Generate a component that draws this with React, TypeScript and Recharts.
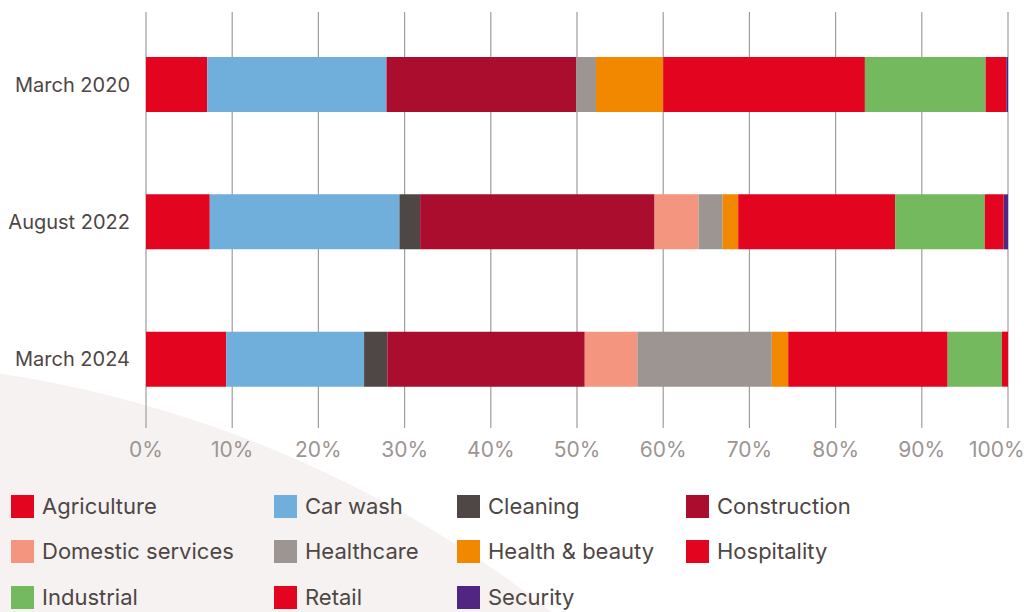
import React from 'react';
import { BarChart, Bar, XAxis, YAxis, CartesianGrid } from 'recharts';

const categories = ['March 2020', 'August 2022', 'March 2024'];
const agriculture = [7.1, 7.4, 9.3];
const carWash = [20.8, 22.0, 16.0];
const cleaning = [0, 2.4, 2.7];
const construction = [22.0, 27.2, 22.9];
const domesticServices = [0, 5.1, 6.1];
const healthcare = [2.3, 2.8, 15.6];
const healthBeauty = [7.8, 1.8, 1.9];
const hospitality = [23.4, 18.2, 18.5];
const industrial = [14.0, 10.4, 6.3];
const retail = [2.4, 2.2, 0.7];
const security = [0.2, 0.5, 0];
const xTicks = [0, 10, 20, 30, 40, 50, 60, 70, 80, 90, 100];

const series = [
  { key: 'Agriculture', values: agriculture, color: '#E30520' },
  { key: 'Car wash', values: carWash, color: '#70AFDB' },
  { key: 'Cleaning', values: cleaning, color: '#4F4745' },
  { key: 'Construction', values: construction, color: '#AB0D2F' },
  { key: 'Domestic services', values: domesticServices, color: '#F4967F' },
  { key: 'Healthcare', values: healthcare, color: '#9C9592' },
  { key: 'Health & beauty', values: healthBeauty, color: '#F28800' },
  { key: 'Hospitality', values: hospitality, color: '#E30520' },
  { key: 'Industrial', values: industrial, color: '#74B95E' },
  { key: 'Retail', values: retail, color: '#E30520' },
  { key: 'Security', values: security, color: '#512582' },
];

const data = categories.map((name, i) => {
  const row: Record<string, any> = { name };
  series.forEach((s) => {
    row[s.key] = s.values[i];
  });
  return row;
});

const FONT = 'Inter, "Noto Sans", sans-serif';
const TEXT = '#4E4644';
const TICK = '#9C9592';

const XTick = (props: any) => {
  const { x, y, payload } = props;
  const label = `${payload.value}%`;
  const halfW = label.length * 6.3;
  const cx = Math.min(x, 1022 - halfW);
  return (
    <text x={cx} y={y} dy="0.71em" textAnchor="middle" fill={TICK} fontSize={21} fontFamily={FONT}>
      {label}
    </text>
  );
};

const colLefts = [11, 274, 457, 686];
const rowTops = [495, 540, 586];

export default function App() {
  return (
    <div style={{ position: 'absolute', left: 0, top: 0, width: 1024, height: 612, background: '#fff', overflow: 'hidden', fontFamily: FONT }}>
      <svg width={1024} height={612} style={{ position: 'absolute', left: 0, top: 0 }}>
        <circle cx={-178} cy={1542} r={1182} fill="#F6F2F1" />
      </svg>
      <div style={{ position: 'absolute', left: 0, top: 0 }}>
        <BarChart
          width={1024}
          height={612}
          data={data}
          layout="vertical"
          margin={{ top: 12, right: 16, bottom: 154, left: 0 }}
          barSize={55}
        >
          <CartesianGrid horizontal={false} vertical stroke="#A39C9A" strokeWidth={1.2} />
          <XAxis
            type="number"
            domain={[0, 100]}
            ticks={xTicks}
            axisLine={false}
            tickLine={false}
            tickMargin={8}
            interval={0}
            tick={<XTick />}
          />
          <YAxis
            type="category"
            dataKey="name"
            width={146}
            axisLine={false}
            tickLine={false}
            tickSize={0}
            tickMargin={16}
            padding={{ top: 4, bottom: 0 }}
            tick={{ fill: TEXT, fontSize: 20, fontFamily: FONT }}
          />
          {series.map((s) => (
            <Bar key={s.key} dataKey={s.key} stackId="a" fill={s.color} isAnimationActive={false} />
          ))}
        </BarChart>
      </div>
      {series.map((s, i) => {
        const col = i % 4;
        const row = Math.floor(i / 4);
        return (
          <div
            key={s.key}
            style={{ position: 'absolute', left: colLefts[col], top: rowTops[row], display: 'flex', alignItems: 'center', height: 23 }}
          >
            <div style={{ width: 23, height: 23, background: s.color }} />
            <span style={{ marginLeft: 8, fontSize: 22, color: TEXT, whiteSpace: 'nowrap', lineHeight: '23px' }}>{s.key}</span>
          </div>
        );
      })}
    </div>
  );
}
